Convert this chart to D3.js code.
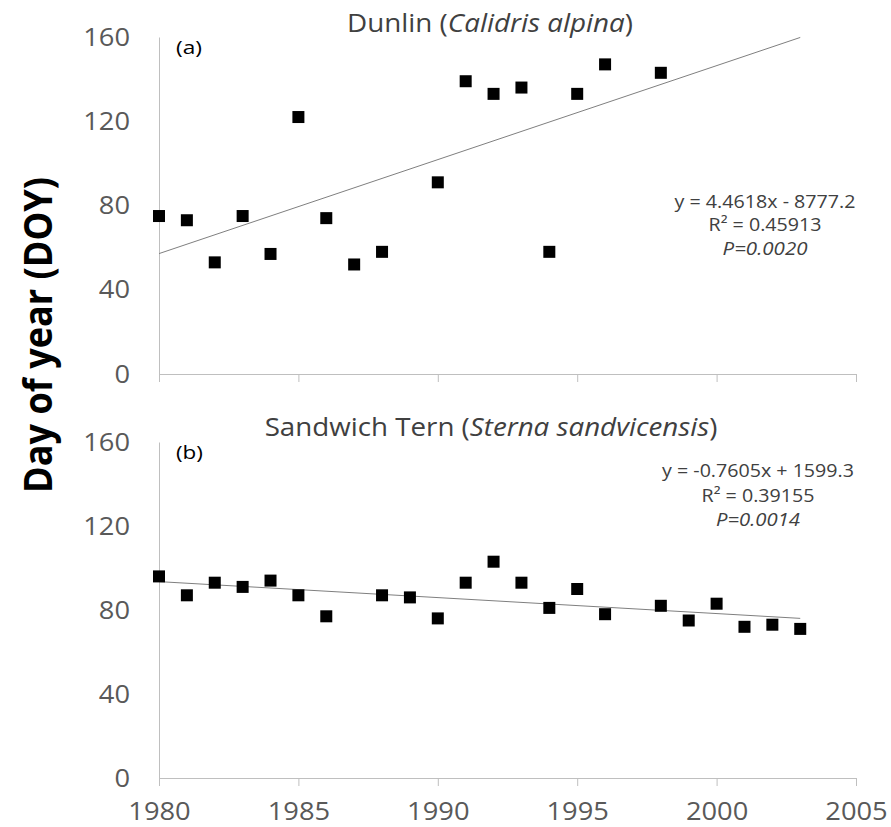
<!DOCTYPE html>
<html>
<head>
<meta charset="utf-8">
<script src="https://cdn.jsdelivr.net/npm/d3@7"></script>
<style>
  body { margin: 0; background: #fff; }
  svg { display: block; font-family: "Open Sans", sans-serif; }
  .axis path, .axis line { stroke: #bfbfbf; }
  .axis text { fill: #595959; font-size: 25px; font-family: "Open Sans", sans-serif; }
</style>
</head>
<body>
<div id="chart"></div>
<script>
"use strict";

// Dunlin (a)
var dunlinYears = [1980, 1981, 1982, 1983, 1984, 1985, 1986, 1987, 1988, 1990, 1991, 1992, 1993, 1994, 1995, 1996, 1998];
var dunlinDoy   = [75, 73, 53, 75, 57, 122, 74, 52, 58, 91, 139, 133, 136, 58, 133, 147, 143];

// Sandwich Tern (b)
var ternYears = [1980, 1981, 1982, 1983, 1984, 1985, 1986, 1988, 1989, 1990, 1991, 1992, 1993, 1994, 1995, 1996, 1998, 1999, 2000, 2001, 2002, 2003];
var ternDoy   = [96, 87, 93, 91, 94, 87, 77, 87, 86, 76, 93, 103, 93, 81, 90, 78, 82, 75, 83, 72, 73, 71];

// trendline coefficients as printed on the chart
var dunlinFit = [4.4618, -8777.2];
var ternFit = [-0.7605, 1599.3];
var fitYears = [1980, 2003];

var xTicks = [1980, 1985, 1990, 1995, 2000, 2005];
var yTicks = [0, 40, 80, 120, 160];

var panels = [
  {
    common: "Dunlin", latin: "Calidris alpina", tag: "(a)",
    years: dunlinYears, doy: dunlinDoy, fit: dunlinFit,
    eq: ["y = 4.4618x - 8777.2", "R\u00b2 = 0.45913", "P=0.0020"],
    top: 37, bottom: 374, titleX: 490, titleY: 32, titleW: 286, tagW: 26,
    eqX: 765, eqY: 208, eqGap: 23.5, eqW: [181, 113, 85], xLabels: false
  },
  {
    common: "Sandwich Tern", latin: "Sterna sandvicensis", tag: "(b)",
    years: ternYears, doy: ternDoy, fit: ternFit,
    eq: ["y = -0.7605x + 1599.3", "R\u00b2 = 0.39155", "P=0.0014"],
    top: 442, bottom: 778, titleX: 491, titleY: 436, titleW: 453, tagW: 27,
    eqX: 758, eqY: 477, eqGap: 24.7, eqW: [192, 113, 84], xLabels: true
  }
];

// widen a text horizontally to a given advance width (reference font is wider)
function stretch(node, target) {
  var el = d3.select(node);
  var natural = node.getComputedTextLength();
  if (!natural) { return; }
  var k = target / natural;
  var x0 = +el.attr("x") || 0;
  el.attr("x", 0)
    .attr("transform", "translate(" + x0 + ",0) scale(" + k + ",1)");
}

var width = 891, height = 827;
var svg = d3.select("#chart").append("svg")
  .attr("width", width)
  .attr("height", height);

svg.append("rect").attr("width", width).attr("height", height).attr("fill", "#fff");

var x = d3.scaleLinear().domain([1980, 2005]).range([159, 856]);
var digitW = 15.6;

panels.forEach(function(p) {
  var y = d3.scaleLinear().domain([0, 160]).range([p.bottom, p.top]);
  var gp = svg.append("g");

  // axes
  var ya = gp.append("g")
    .attr("class", "axis")
    .attr("transform", "translate(" + x(1980) + ",0)")
    .call(d3.axisLeft(y).tickValues(yTicks).tickSize(0).tickPadding(29));
  ya.selectAll("text").each(function(d) {
    stretch(this, String(d).length * digitW);
  });

  var xa = gp.append("g")
    .attr("class", "axis")
    .attr("transform", "translate(0," + p.bottom + ")")
    .call(d3.axisBottom(x).tickValues(xTicks).tickSize(8).tickSizeOuter(0)
      .tickPadding(16).tickFormat(d3.format("d")));
  if (!p.xLabels) {
    xa.selectAll("text").remove();
  } else {
    xa.selectAll("text").each(function(d) {
      stretch(this, String(d).length * digitW);
    });
  }

  // trendline
  var line = d3.line()
    .x(function(d) { return x(d); })
    .y(function(d) { return y(p.fit[0] * d + p.fit[1]); });
  gp.append("path")
    .datum(fitYears)
    .attr("d", line)
    .attr("fill", "none")
    .attr("stroke", "#7f7f7f")
    .attr("stroke-width", 1);

  // markers
  var s = 12;
  gp.selectAll("rect.pt")
    .data(p.years)
    .enter()
    .append("rect")
    .attr("class", "pt")
    .attr("x", function(d) { return x(d) - s / 2; })
    .attr("y", function(d, i) { return y(p.doy[i]) - s / 2; })
    .attr("width", s)
    .attr("height", s)
    .attr("fill", "#000");

  // title
  var t = gp.append("text")
    .attr("x", p.titleX)
    .attr("y", p.titleY)
    .attr("text-anchor", "middle")
    .attr("fill", "#404040")
    .style("font-size", "25px");
  t.append("tspan").text(p.common + " (");
  t.append("tspan").style("font-style", "italic").text(p.latin);
  t.append("tspan").text(")");
  stretch(t.node(), p.titleW);

  // panel tag
  var tag = gp.append("text")
    .attr("x", 176)
    .attr("y", p.top + 17)
    .attr("fill", "#000")
    .style("font-size", "18px")
    .text(p.tag);
  stretch(tag.node(), p.tagW);

  // equation block
  gp.selectAll("text.eq")
    .data(p.eq)
    .enter()
    .append("text")
    .attr("class", "eq")
    .attr("x", p.eqX)
    .attr("y", function(d, i) { return p.eqY + i * p.eqGap; })
    .attr("text-anchor", "middle")
    .attr("fill", "#404040")
    .style("font-size", "18px")
    .style("font-style", function(d, i) { return i === 2 ? "italic" : null; })
    .text(function(d) { return d; })
    .each(function(d, i) { stretch(this, p.eqW[i]); });
});

// shared y label
svg.append("text")
  .attr("transform", "translate(52,335) rotate(-90)")
  .attr("text-anchor", "middle")
  .attr("fill", "#000")
  .style("font-size", "40px")
  .style("font-weight", "bold")
  .attr("textLength", 316)
  .attr("lengthAdjust", "spacingAndGlyphs")
  .text("Day of year (DOY)");
</script>
</body>
</html>
